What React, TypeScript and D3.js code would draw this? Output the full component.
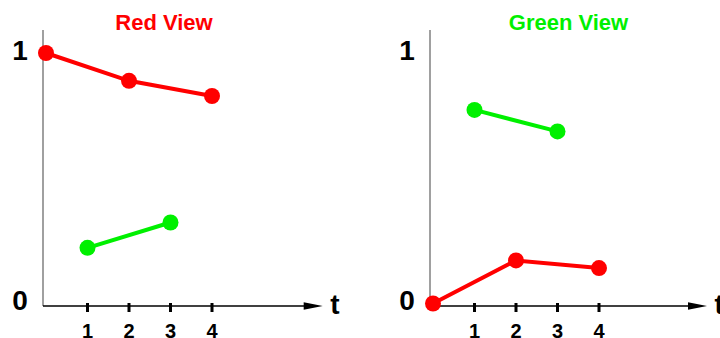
import React from "react";
import * as d3 from "d3";

const tickLabels = ["1", "2", "3", "4"];
const tickValues = [1, 2, 3, 4];

const leftTitle = "Red View";
const leftRedT = [0, 2, 4];
const leftRedV = [1, 0.89, 0.83];
const leftGreenT = [1, 3];
const leftGreenV = [0.23, 0.33];

const rightTitle = "Green View";
const rightRedT = [0, 2, 4];
const rightRedV = [0.01, 0.18, 0.15];
const rightGreenT = [1, 3];
const rightGreenV = [0.775, 0.69];

const RED = "#ff0000";
const GREEN = "#00f000";
const FONT = "'Liberation Sans', Arial, Helvetica, sans-serif";

type PanelProps = {
  ox: number;
  tip: number;
  title: string;
  titleColor: string;
  titleX: number;
  redT: number[];
  redV: number[];
  greenT: number[];
  greenV: number[];
};

function Panel({ ox, tip, title, titleColor, titleX, redT, redV, greenT, greenV }: PanelProps) {
  const x = d3.scaleLinear().domain([0, 4]).range([ox + 3, ox + 169]);
  const y = d3.scaleLinear().domain([0, 1]).range([306, 53]);
  const line = d3
    .line<[number, number]>()
    .x((d) => x(d[0]))
    .y((d) => y(d[1]));
  const red: [number, number][] = redT.map((t, i) => [t, redV[i]]);
  const green: [number, number][] = greenT.map((t, i) => [t, greenV[i]]);
  const axisY = y(0);
  return (
    <g>
      <text x={titleX} y={30} textAnchor="middle" fontFamily={FONT} fontWeight="bold" fontSize={22} fill={titleColor}>
        {title}
      </text>
      {/* y axis */}
      <line x1={ox} x2={ox} y1={30} y2={axisY} stroke="#808080" strokeWidth={1.5} />
      {/* x axis */}
      <line x1={ox} x2={tip - 15} y1={axisY} y2={axisY} stroke="#000" strokeWidth={1.5} />
      <polygon points={`${tip},${axisY} ${tip - 19},${axisY - 3.8} ${tip - 19},${axisY + 3.8}`} fill="#000" />
      <text x={tip + 7.5} y={314} fontFamily={FONT} fontWeight="bold" fontSize={28} fill="#000">
        t
      </text>
      {tickValues.map((t, i) => (
        <g key={t}>
          <rect x={x(t) - 1.5} y={axisY - 3} width={3} height={9} fill="#000" />
          <text x={x(t)} y={337.5} textAnchor="middle" fontFamily={FONT} fontWeight="bold" fontSize={20} fill="#000">
            {tickLabels[i]}
          </text>
        </g>
      ))}
      <text x={ox - 23} y={y(1) + 7} textAnchor="middle" fontFamily={FONT} fontWeight="bold" fontSize={28} fill="#000">
        1
      </text>
      <text x={ox - 23} y={axisY + 4} textAnchor="middle" fontFamily={FONT} fontWeight="bold" fontSize={28} fill="#000">
        0
      </text>
      <path d={line(red) || ""} fill="none" stroke={RED} strokeWidth={4} />
      {red.map((d, i) => (
        <circle key={"r" + i} cx={x(d[0])} cy={y(d[1])} r={8} fill={RED} />
      ))}
      <path d={line(green) || ""} fill="none" stroke={GREEN} strokeWidth={4} />
      {green.map((d, i) => (
        <circle key={"g" + i} cx={x(d[0])} cy={y(d[1])} r={8} fill={GREEN} />
      ))}
    </g>
  );
}

export default function App() {
  return (
    <svg
      width={720}
      height={338}
      style={{ position: "absolute", left: 0, top: 0, background: "#fff" }}
    >
      <rect width={720} height={338} fill="#fff" />
      <Panel
        ox={43}
        tip={322.7}
        title={leftTitle}
        titleColor={RED}
        titleX={164}
        redT={leftRedT}
        redV={leftRedV}
        greenT={leftGreenT}
        greenV={leftGreenV}
      />
      <Panel
        ox={430}
        tip={707}
        title={rightTitle}
        titleColor={GREEN}
        titleX={568.5}
        redT={rightRedT}
        redV={rightRedV}
        greenT={rightGreenT}
        greenV={rightGreenV}
      />
    </svg>
  );
}
